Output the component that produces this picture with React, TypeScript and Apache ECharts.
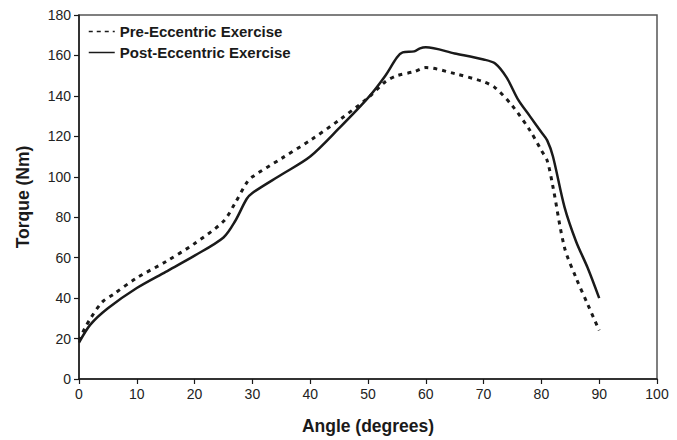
import React, { useEffect, useRef } from "react";
import * as echarts from "echarts";

const preAngles = [0, 1, 2, 4, 6, 10, 15, 20, 25, 27, 29, 30, 35, 40, 45, 50, 53, 55, 58, 60, 65, 70, 72, 75, 78, 80, 81, 82, 84, 86, 88, 90];
const preTorque = [19, 25, 30, 38, 42, 50, 58, 67, 78, 87, 97, 100, 109, 118, 128, 139, 147, 150, 152, 154, 151, 147, 144, 135, 123, 113, 108, 95, 65, 50, 37, 24];

const postAngles = [0, 2, 5, 10, 15, 20, 25, 27, 29, 30, 35, 40, 45, 50, 53, 55, 56, 58, 59, 60, 65, 70, 72, 74, 76, 78, 80, 81, 82, 84, 86, 88, 90];
const postTorque = [18, 27, 35, 45, 53, 61, 70, 78, 89, 92, 101, 110, 124, 139, 150, 159, 161.5, 162, 163.5, 164, 161, 158, 156, 149, 138, 130, 122, 118, 110, 85, 68, 55, 40];

const seriesNames = ["Pre-Eccentric Exercise", "Post-Eccentric Exercise"];
const xTitle = "Angle (degrees)";
const yTitle = "Torque (Nm)";

const pair = (xs: number[], ys: number[]) => xs.map((x, i) => [x, ys[i]]);

export default function App() {
  const ref = useRef<HTMLDivElement>(null);
  useEffect(() => {
    if (!ref.current) return;
    const chart = echarts.init(ref.current, undefined, { renderer: "svg" });
    const font = "Liberation Sans, Arial, sans-serif";
    chart.setOption({
      animation: false,
      backgroundColor: "#ffffff",
      textStyle: { fontFamily: font },
      grid: { left: 79, right: 20, top: 15, bottom: 54, show: true, borderColor: "#555", borderWidth: 1.5 },
      legend: {
        orient: "vertical",
        left: 88,
        top: 24,
        padding: 0,
        itemGap: 6,
        itemWidth: 26,
        itemHeight: 12,
        itemStyle: { opacity: 0, color: "transparent", borderWidth: 0 },
        textStyle: { fontFamily: font, fontSize: 15, fontWeight: "bold", color: "#1a1a1a" },
        data: [
          { name: seriesNames[0], lineStyle: { width: 1.3, type: [4, 4], color: "#1a1a1a" } },
          { name: seriesNames[1], lineStyle: { width: 1.5, type: "solid", color: "#1a1a1a" } },
        ],
      },
      xAxis: {
        type: "value",
        min: 0,
        max: 100,
        interval: 10,
        name: xTitle,
        nameLocation: "middle",
        nameGap: 38,
        nameTextStyle: { fontFamily: font, fontSize: 17.5, fontWeight: "bold", color: "#1a1a1a" },
        axisLine: { show: true, lineStyle: { color: "#1a1a1a", width: 1.5 } },
        axisTick: { show: true, length: 5, lineStyle: { color: "#1a1a1a", width: 1.2 } },
        axisLabel: { fontFamily: font, fontSize: 14, color: "#222", margin: 8 },
        splitLine: { show: false },
      },
      yAxis: {
        type: "value",
        min: 0,
        max: 180,
        interval: 20,
        name: yTitle,
        nameLocation: "middle",
        nameGap: 47,
        nameTextStyle: { fontFamily: font, fontSize: 17.5, fontWeight: "bold", color: "#1a1a1a" },
        axisLine: { show: true, lineStyle: { color: "#1a1a1a", width: 1.5 } },
        axisTick: { show: true, length: 5, lineStyle: { color: "#1a1a1a", width: 1.2 } },
        axisLabel: { fontFamily: font, fontSize: 14, color: "#222", margin: 8 },
        splitLine: { show: false },
      },
      series: [
        {
          name: seriesNames[0],
          type: "line",
          data: pair(preAngles, preTorque),
          smooth: 0.3,
          showSymbol: false,
          symbol: "none",
          lineStyle: { color: "#1a1a1a", width: 3, type: [4, 5] },
          itemStyle: { color: "#1a1a1a" },
        },
        {
          name: seriesNames[1],
          type: "line",
          data: pair(postAngles, postTorque),
          smooth: 0.3,
          showSymbol: false,
          symbol: "none",
          lineStyle: { color: "#1a1a1a", width: 2.5, type: "solid" },
          itemStyle: { color: "#1a1a1a" },
        },
      ],
    });
    return () => chart.dispose();
  }, []);
  return <div ref={ref} style={{ position: "absolute", left: 0, top: 0, width: 677, height: 440 }} />;
}
